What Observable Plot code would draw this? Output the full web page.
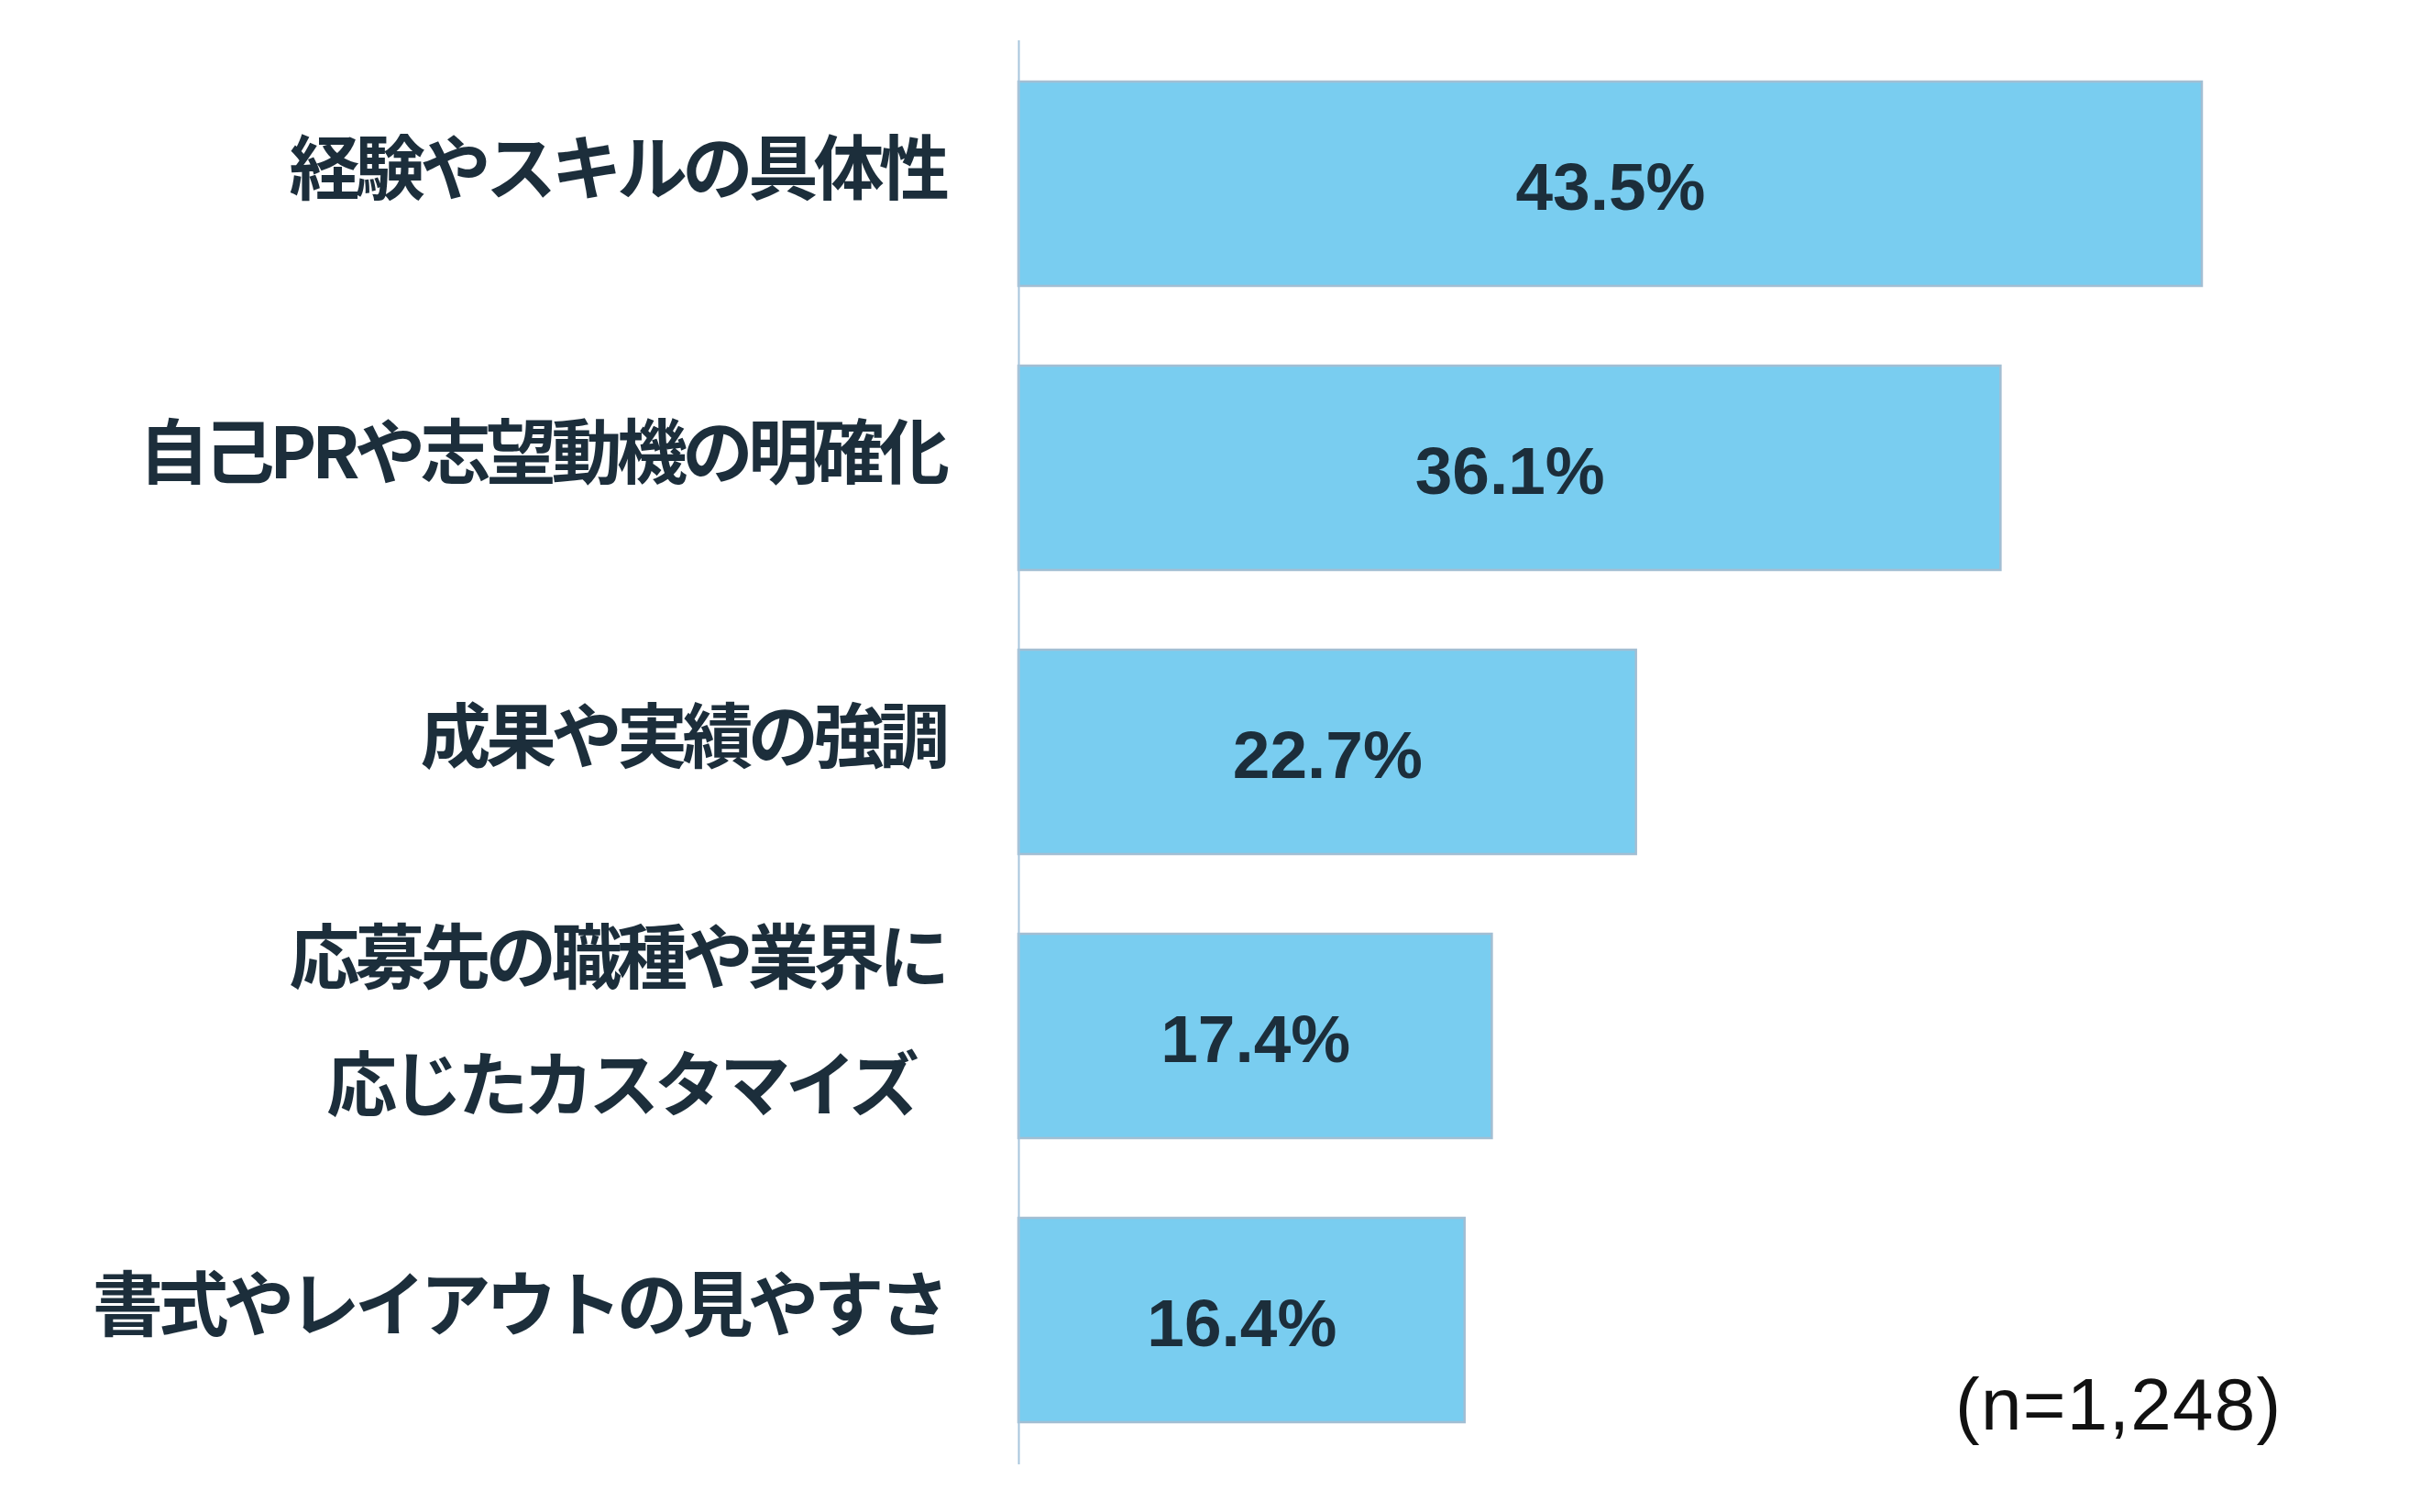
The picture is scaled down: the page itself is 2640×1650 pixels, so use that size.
<!DOCTYPE html>
<html>
<head>
<meta charset="utf-8">
<script src="https://cdn.jsdelivr.net/npm/d3@7"></script>
<script src="https://cdn.jsdelivr.net/npm/@observablehq/plot@0.6"></script>
<style>
  html, body { margin: 0; padding: 0; background: #ffffff; }
  #chart svg { display: block; }
</style>
</head>
<body>
<div id="chart"></div>
<script>
// ---- data ----
const categories = [
  "経験やスキルの具体性",
  "自己PRや志望動機の明確化",
  "成果や実績の強調",
  "応募先の職種や業界に\n応じたカスタマイズ\u2002",
  "書式やレイアウトの見やすさ"
];
const values = [43.5, 36.1, 22.7, 17.4, 16.4];
const sampleNote = "(n=1,248)";

const rows = categories.map((c, i) => ({category: c, value: values[i]}));

const textColor = "#1c2e3b";
const cjkFont = "'Noto Sans CJK JP', 'Noto Sans', sans-serif";
const numFont = "'Liberation Sans', Arial, sans-serif";

const chart = Plot.plot({
  width: 2640,
  height: 1650,
  marginTop: 44,
  marginBottom: 52,
  marginLeft: 1111,
  marginRight: 238,
  style: {background: "#ffffff", fontFamily: cjkFont},
  x: {domain: [0, 43.5], axis: null},
  y: {domain: categories, paddingInner: 0.28, paddingOuter: 0.14, align: 0.5, label: null},
  marks: [
    Plot.barX(rows, {
      y: "category",
      x: "value",
      fill: "#79cdf0",
      stroke: "#a2bed3",
      strokeWidth: 2.5
    }),
    Plot.ruleX([0], {stroke: "#a7c5dc", strokeWidth: 2}),
    Plot.axisY({
      tickSize: 0,
      tickPadding: 81,
      fontSize: 77,
      fontWeight: 700,
      fill: textColor,
      lineHeight: 1.805,
      dy: -33,
      fontFamily: cjkFont,
      label: null
    }),
    Plot.text(rows, {
      y: "category",
      x: d => d.value / 2,
      text: d => d3.format(".1f")(d.value) + "%",
      fontSize: 73,
      fontWeight: 700,
      fontFamily: numFont,
      fill: textColor,
      dy: 5
    }),
    Plot.text([sampleNote], {
      frameAnchor: "bottom-right",
      textAnchor: "end",
      text: d => d,
      fontSize: 80,
      fontFamily: numFont,
      fill: "#111111",
      dx: 87,
      dy: -39
    })
  ]
});

d3.select(chart).selectAll('g[aria-label="y-axis tick label"]').attr("letter-spacing", "-5.5px");
d3.select(chart).selectAll('g[aria-label="text"]').filter((d, i, n) => i === n.length - 1).attr("letter-spacing", "1.3px");
document.getElementById("chart").appendChild(chart);
</script>
</body>
</html>
